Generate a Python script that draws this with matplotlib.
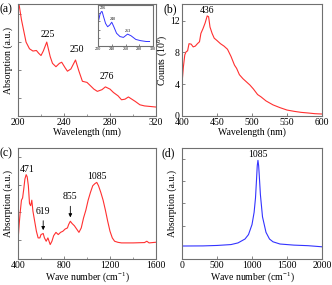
import matplotlib
matplotlib.use("Agg")
import matplotlib.pyplot as plt

plt.rcParams['font.family'] = ['Liberation Serif', 'DejaVu Serif']
plt.rcParams['mathtext.fontset'] = 'custom'
plt.rcParams['mathtext.rm'] = 'Liberation Serif'
plt.rcParams['mathtext.it'] = 'Liberation Serif:italic'

# ---- panel (a): UV absorption ----
a_wl = [201, 203, 205, 207, 210, 213, 216, 218, 220, 222, 225, 228, 230, 233, 236, 238, 241, 243,
        246, 250, 253, 256, 260, 263, 266, 269, 273, 276, 280, 283, 287, 290, 293, 296, 299, 302,
        306, 310, 315, 320]
a_abs = [0.99, 0.86, 0.76, 0.66, 0.60, 0.58, 0.585, 0.56, 0.54, 0.58, 0.66, 0.53, 0.47, 0.44,
         0.47, 0.48, 0.43, 0.40, 0.42, 0.50, 0.40, 0.31, 0.30, 0.27, 0.24, 0.22, 0.235, 0.26,
         0.24, 0.21, 0.18, 0.145, 0.15, 0.17, 0.15, 0.13, 0.10, 0.09, 0.085, 0.08]
a_peaks = [225, 250, 276]

# inset
i_wl = [221, 223, 225, 226, 228, 231, 234, 237, 240, 243, 247, 252, 257, 263, 268, 275, 282, 290, 295]
i_abs = [0.63, 0.78, 0.84, 0.84, 0.72, 0.55, 0.47, 0.51, 0.58, 0.47, 0.31, 0.23, 0.21, 0.29,
         0.25, 0.16, 0.13, 0.11, 0.11]
i_peaks = [226, 240, 263]
i_peak_y = [0.88, 0.60, 0.31]

# ---- panel (b): emission ----
b_wl = [400, 402, 404, 406, 408, 410, 413, 416, 419, 422, 425, 427, 430, 433, 436, 438, 440,
        443, 446, 450, 455, 460, 465, 470, 475, 478, 482, 487, 492, 497, 502, 508, 513, 520,
        530, 540, 550, 560, 570, 580, 590, 600]
b_counts = [4.1, 6.2, 7.7, 8.1, 8.2, 9.1, 9.05, 8.7, 8.8, 9.1, 9.35, 10.4, 11.0, 11.7, 12.6,
            12.5, 11.2, 10.4, 9.8, 9.5, 9.1, 8.8, 8.4, 7.5, 6.4, 6.0, 5.2, 4.7, 4.3, 3.9, 3.4,
            2.7, 2.4, 1.9, 1.4, 1.05, 0.75, 0.59, 0.46, 0.38, 0.29, 0.25]

# ---- panel (c): IR absorption ----
c_wn = [400, 410, 420, 430, 440, 450, 460, 471, 480, 490, 500, 510, 520, 530, 540, 550, 560,
        575, 590, 600, 619, 630, 645, 660, 680, 695, 710, 730, 750, 770, 790, 810, 830, 840,
        855, 870, 890, 910, 930, 950, 970, 990, 1010, 1030, 1050, 1070, 1085, 1100, 1120, 1140,
        1160, 1180, 1200, 1220, 1240, 1270, 1300, 1400, 1500, 1520, 1540, 1600]
c_abs = [0.16, 0.31, 0.43, 0.53, 0.55, 0.63, 0.72, 0.76, 0.74, 0.66, 0.50, 0.48, 0.53, 0.43,
         0.37, 0.31, 0.25, 0.19, 0.19, 0.22, 0.23, 0.19, 0.16, 0.19, 0.13, 0.16, 0.21, 0.24,
         0.22, 0.24, 0.25, 0.27, 0.28, 0.31, 0.34, 0.32, 0.30, 0.27, 0.24, 0.28, 0.37, 0.44,
         0.53, 0.60, 0.66, 0.68, 0.69, 0.66, 0.60, 0.53, 0.44, 0.34, 0.25, 0.19, 0.16, 0.15,
         0.145, 0.145, 0.148, 0.16, 0.145, 0.151]
c_peaks = [471, 619, 855, 1085]

# ---- panel (d): calculated IR ----
d_wn = [0, 300, 500, 700, 800, 900, 950, 1000, 1030, 1050, 1065, 1075, 1085, 1095, 1105, 1120,
        1150, 1200, 1250, 1300, 1400, 1600, 1800, 2000]
d_abs = [0.117, 0.118, 0.122, 0.130, 0.145, 0.18, 0.22, 0.31, 0.42, 0.55, 0.72, 0.84, 0.889,
         0.84, 0.74, 0.58, 0.38, 0.24, 0.18, 0.155, 0.135, 0.125, 0.12, 0.11]

red = '#ff3030'
blue = '#3333ff'
spine_c = '#707070'
fs = 7.0

fig = plt.figure(figsize=(3.32, 2.85), dpi=100)

def style(ax):
    for s in ax.spines.values():
        s.set_color(spine_c)
        s.set_linewidth(0.8)
    ax.tick_params(direction='in', length=2.5, width=0.6, color=spine_c, labelsize=fs, pad=1.5)
    ax.tick_params(which='minor', direction='in', length=1.5, width=0.5, color=spine_c)

L1, R1 = 18/332, 156/332
L2, R2 = 182/332, 322/332
B1, T1 = 1-116/285, 1-4/285
B2, T2 = 1-259/285, 1-148/285

# (a)
ax = fig.add_axes([L1, B1, R1-L1, T1-B1])
style(ax)
ax.plot(a_wl, a_abs, color=red, lw=0.8)
ax.set_xlim(200, 320)
ax.set_ylim(0, 1)
ax.set_xticks([200, 240, 280, 320])
ax.set_xticks([220, 260, 300], minor=True)
ax.set_yticks([0.16, 0.41, 0.66, 0.91])
ax.set_yticklabels([])
ax.set_xlabel('Wavelength (nm)', fontsize=fs, labelpad=0.5)
ax.set_ylabel('Absorption (a.u.)', fontsize=fs, labelpad=2)
for p, yy in zip(a_peaks, [0.69, 0.55, 0.31]):
    ax.text(p + 1, yy, str(p), fontsize=fs, ha='center', va='bottom')
fig.text(0.0, 1-9/285, '(a)', fontsize=8.5, va='center', ha='left')

# inset
axi = fig.add_axes([98/332, 1-46/285, 55/332, 41/285])
style(axi)
axi.tick_params(labelsize=3.0, length=1.2, pad=0.5)
axi.plot(i_wl, i_abs, color=blue, lw=0.7)
axi.set_xlim(220, 300)
axi.set_ylim(0, 1)
axi.set_xticks([220, 240, 260, 280, 300])
axi.set_yticks([0.2, 0.4, 0.6, 0.8])
axi.set_yticklabels([])
for p, yy in zip(i_peaks, i_peak_y):
    axi.text(p + 1, yy, str(p), fontsize=3.0, ha='center', va='bottom')

# (b)
ax = fig.add_axes([L2, B1, R2-L2, T1-B1])
style(ax)
ax.plot(b_wl, b_counts, color=red, lw=0.8)
ax.set_xlim(400, 600)
ax.set_ylim(0, 14.1)
ax.set_xticks([400, 450, 500, 550, 600])
ax.set_yticks([0, 4, 8, 12])
ax.set_xlabel('Wavelength (nm)', fontsize=fs, labelpad=0.5)
ax.set_ylabel('Counts (10$^6$)', fontsize=fs, labelpad=1)
ax.text(436, 12.75, '436', fontsize=fs, ha='center', va='bottom')
fig.text(163/332, 1-9/285, '(b)', fontsize=8.5, va='center', ha='left')

# (c)
ax = fig.add_axes([L1, B2, R1-L1, T2-B2])
style(ax)
ax.plot(c_wn, c_abs, color=red, lw=0.8)
ax.set_xlim(400, 1600)
ax.set_ylim(0, 1)
ax.set_xticks([400, 800, 1200, 1600])
ax.set_xticks([600, 1000, 1400], minor=True)
ax.set_yticks([0.17, 0.42, 0.67, 0.92])
ax.set_yticklabels([])
ax.set_xlabel('Wave number (cm$^{-1}$)', fontsize=fs, labelpad=0)
ax.set_ylabel('Absorption (a.u.)', fontsize=fs, labelpad=2)
ax.text(480, 0.77, '471', fontsize=fs, ha='center', va='bottom')
ax.text(1085, 0.70, '1085', fontsize=fs, ha='center', va='bottom')
ax.annotate('', xy=(619, 0.235), xytext=(619, 0.37),
            arrowprops=dict(arrowstyle='-|>', color='black', lw=0.6, mutation_scale=5))
ax.text(619, 0.39, '619', fontsize=fs, ha='center', va='bottom')
ax.annotate('', xy=(855, 0.35), xytext=(855, 0.50),
            arrowprops=dict(arrowstyle='-|>', color='black', lw=0.6, mutation_scale=5))
ax.text(855, 0.52, '855', fontsize=fs, ha='center', va='bottom')
fig.text(0.0, 1-153/285, '(c)', fontsize=8.5, va='center', ha='left')

# (d)
ax = fig.add_axes([L2, B2, R2-L2, T2-B2])
style(ax)
ax.plot(d_wn, d_abs, color=blue, lw=0.8)
ax.set_xlim(0, 2000)
ax.set_ylim(0, 1)
ax.set_xticks([0, 500, 1000, 1500, 2000])
ax.set_yticks([0.3, 0.5, 0.7, 0.9])
ax.set_yticklabels([])
ax.set_xlabel('Wave number (cm$^{-1}$)', fontsize=fs, labelpad=0)
ax.set_ylabel('Absorption (a.u.)', fontsize=fs, labelpad=2)
ax.text(1085, 0.9, '1085', fontsize=fs, ha='center', va='bottom')
fig.text(161/332, 1-153/285, '(d)', fontsize=8.5, va='center', ha='left')

fig.savefig('out.png', dpi=100)
